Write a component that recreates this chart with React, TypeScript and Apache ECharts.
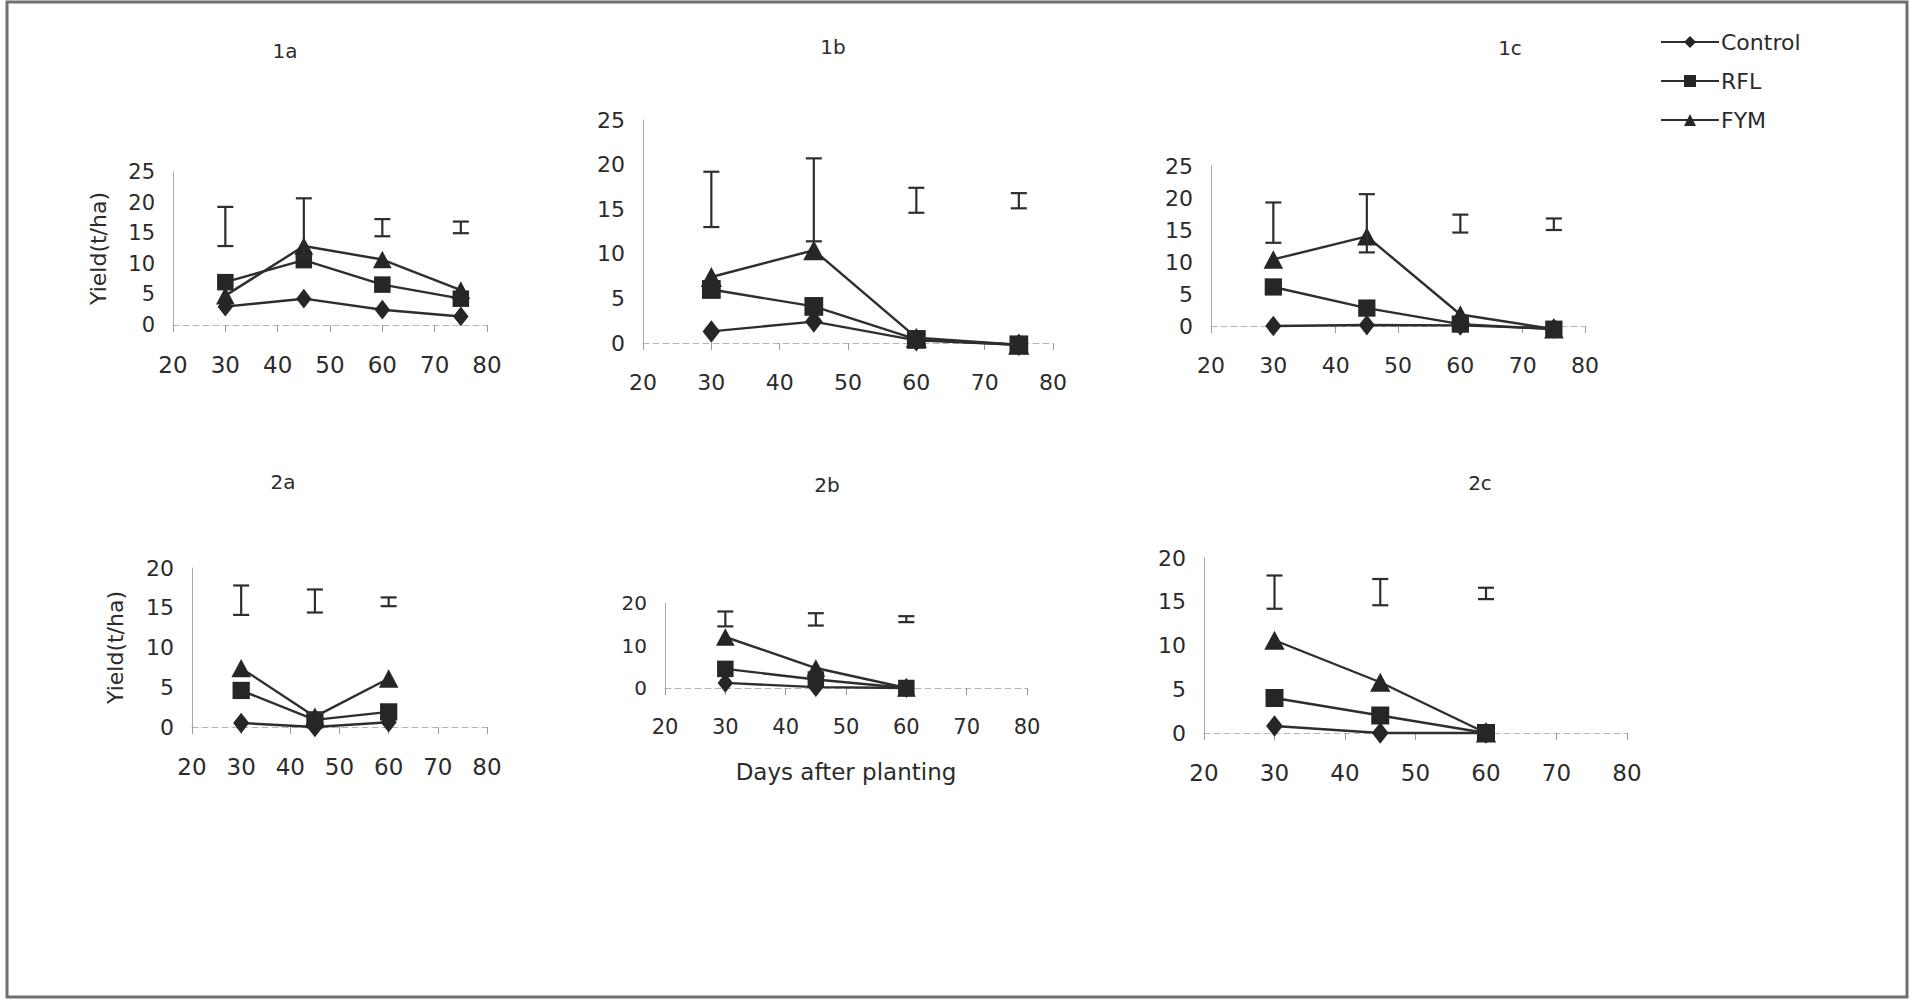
import React, { useEffect, useRef } from "react";
import * as echarts from "echarts";

// ---------- data ----------
const days4 = [30, 45, 60, 75];
const days3 = [30, 45, 60];

const control1a = [3.0, 4.3, 2.5, 1.4];
const rfl1a = [7.0, 10.6, 6.6, 4.3];
const fym1a = [4.8, 12.9, 10.7, 5.7];
const errLow1a = [12.9, 11.3, 14.5, 15.0];
const errHigh1a = [19.3, 20.7, 17.3, 16.9];

const control1b = [1.3, 2.4, 0.3, -0.2];
const rfl1b = [6.0, 4.1, 0.4, -0.2];
const fym1b = [7.4, 10.4, 0.6, -0.2];
const errLow1b = [13.0, 11.4, 14.6, 15.1];
const errHigh1b = [19.2, 20.7, 17.4, 16.8];

const control1c = [0.0, 0.15, 0.1, -0.4];
const rfl1c = [6.1, 2.8, 0.3, -0.5];
const fym1c = [10.4, 14.0, 1.8, -0.5];
const errLow1c = [13.0, 11.5, 14.6, 15.0];
const errHigh1c = [19.3, 20.6, 17.4, 16.8];

const control2a = [0.5, 0.0, 0.6];
const rfl2a = [4.6, 0.9, 1.9];
const fym2a = [7.4, 1.3, 6.1];
const errLow2a = [14.1, 14.4, 15.2];
const errHigh2a = [17.8, 17.3, 16.3];

const control2b = [1.2, 0.2, 0.0];
const rfl2b = [4.5, 2.0, 0.0];
const fym2b = [12.0, 4.7, 0.0];
const errLow2b = [14.5, 14.7, 15.5];
const errHigh2b = [18.0, 17.6, 16.9];

const control2c = [0.8, 0.0, 0.0];
const rfl2c = [4.0, 2.0, 0.0];
const fym2c = [10.6, 5.8, 0.0];
const errLow2c = [14.2, 14.6, 15.3];
const errHigh2c = [18.0, 17.6, 16.6];

const seriesNames = ["Control", "RFL", "FYM"];
const panelTitles = ["1a", "1b", "1c", "2a", "2b", "2c"];
const xTickMin = 20;
const xTickMax = 80;
const xTickStep = 10;
const yMaxes = [25, 25, 25, 20, 20, 20];
const yIntervals = [5, 5, 5, 5, 10, 5];
const yAxisTitle = "Yield(t/ha)";
const xAxisTitle = "Days after planting";

// ---------- layout ----------
const FONT = "'DejaVu Sans', 'Liberation Sans', sans-serif";
const INK = "#2b2b2b";

const grids = [
  { left: 173, top: 172, width: 314, height: 153 },
  { left: 643, top: 120, width: 410, height: 223 },
  { left: 1211, top: 166, width: 374, height: 160 },
  { left: 192, top: 568, width: 295, height: 159 },
  { left: 665, top: 603, width: 362, height: 85 },
  { left: 1204, top: 558, width: 423, height: 175 },
];
const titlePos = [
  [285, 51],
  [833, 47],
  [1510, 48],
  [283, 482],
  [827, 485],
  [1480, 483],
];
const xLabelSize = [23, 22, 22, 23, 21, 23];
const yLabelSize = [21, 22, 22, 22, 20, 22];
const symScale = [1.1, 1.25, 1.15, 1.15, 1.1, 1.2];

const panels = [
  { x: days4, c: control1a, r: rfl1a, f: fym1a, lo: errLow1a, hi: errHigh1a },
  { x: days4, c: control1b, r: rfl1b, f: fym1b, lo: errLow1b, hi: errHigh1b },
  { x: days4, c: control1c, r: rfl1c, f: fym1c, lo: errLow1c, hi: errHigh1c },
  { x: days3, c: control2a, r: rfl2a, f: fym2a, lo: errLow2a, hi: errHigh2a },
  { x: days3, c: control2b, r: rfl2b, f: fym2b, lo: errLow2b, hi: errHigh2b },
  { x: days3, c: control2c, r: rfl2c, f: fym2c, lo: errLow2c, hi: errHigh2c },
];

function buildOption() {
  const xAxis: any[] = [];
  const yAxis: any[] = [];
  const series: any[] = [];
  const graphic: any[] = [];

  panels.forEach((p, i) => {
    xAxis.push({
      type: "value",
      gridIndex: i,
      min: xTickMin,
      max: xTickMax,
      interval: xTickStep,
      axisLine: { onZero: false, lineStyle: { color: "#b5b5b5", width: 1, type: [6, 4] } },
      axisTick: { show: true, length: 7, lineStyle: { color: "#9a9a9a" } },
      axisLabel: { color: INK, fontFamily: FONT, fontSize: xLabelSize[i], margin: 28 },
      splitLine: { show: false },
      name: i === 4 ? xAxisTitle : "",
      nameLocation: "middle",
      nameGap: 72,
      nameTextStyle: { color: INK, fontFamily: FONT, fontSize: 23 },
    });
    yAxis.push({
      type: "value",
      gridIndex: i,
      min: 0,
      max: yMaxes[i],
      interval: yIntervals[i],
      axisLine: { show: true, lineStyle: { color: "#a8a8a8", width: 1 } },
      axisTick: { show: false },
      axisLabel: { color: INK, fontFamily: FONT, fontSize: yLabelSize[i], margin: 18 },
      splitLine: { show: false },
      name: i === 0 || i === 3 ? yAxisTitle : "",
      nameLocation: "middle",
      nameRotate: 90,
      nameGap: i === 0 ? 64 : 66,
      nameTextStyle: { color: INK, fontFamily: FONT, fontSize: 22 },
    });

    const s = symScale[i];
    const common = {
      type: "line",
      xAxisIndex: i,
      yAxisIndex: i,
      clip: false,
      color: "#262626",
      lineStyle: { color: "#2e2e2e", width: 2.4 },
      itemStyle: { color: "#262626" },
    };
    series.push({
      ...common,
      name: seriesNames[0],
      symbol: "diamond",
      symbolSize: [14 * s, 18 * s],
      data: p.x.map((d, k) => [d, p.c[k]]),
      z: 3,
    });
    series.push({
      ...common,
      name: seriesNames[1],
      symbol: "rect",
      symbolSize: 15 * s,
      data: p.x.map((d, k) => [d, p.r[k]]),
      z: 4,
    });
    series.push({
      ...common,
      name: seriesNames[2],
      symbol: "triangle",
      symbolSize: [17 * s, 16 * s],
      data: p.x.map((d, k) => [d, p.f[k]]),
      z: 5,
    });
    series.push({
      type: "custom",
      xAxisIndex: i,
      yAxisIndex: i,
      clip: false,
      z: 6,
      data: p.x.map((d, k) => [d, p.lo[k], p.hi[k]]),
      encode: { x: 0, y: [1, 2] },
      renderItem: (_params: any, api: any) => {
        const x = api.value(0);
        const lo = api.coord([x, api.value(1)]);
        const hi = api.coord([x, api.value(2)]);
        const w = 8;
        const st = { stroke: "#2e2e2e", lineWidth: 2.2 };
        return {
          type: "group",
          children: [
            { type: "line", shape: { x1: lo[0], y1: lo[1], x2: hi[0], y2: hi[1] }, style: st },
            { type: "line", shape: { x1: lo[0] - w, y1: lo[1], x2: lo[0] + w, y2: lo[1] }, style: st },
            { type: "line", shape: { x1: hi[0] - w, y1: hi[1], x2: hi[0] + w, y2: hi[1] }, style: st },
          ],
        };
      },
    });

    graphic.push({
      type: "text",
      x: titlePos[i][0],
      y: titlePos[i][1],
      style: {
        text: panelTitles[i],
        fill: INK,
        font: `20px ${FONT}`,
        align: "center",
        verticalAlign: "middle",
      },
    });
  });

  graphic.push({
    type: "rect",
    shape: { x: 7, y: 2, width: 1900, height: 995 },
    style: { fill: "none", stroke: "#6f6f6f", lineWidth: 3 },
    z: -1,
  });

  return {
    animation: false,
    backgroundColor: "#ffffff",
    grid: grids.map((g) => ({ ...g, containLabel: false })),
    xAxis,
    yAxis,
    legend: {
      data: seriesNames,
      orient: "vertical",
      left: 1655,
      top: 26,
      itemWidth: 58,
      itemHeight: 15,
      itemGap: 17,
      textStyle: { color: INK, fontFamily: FONT, fontSize: 22, padding: [0, 0, 0, -3] },
      inactiveColor: "#262626",
      selectedMode: false,
    },
    graphic,
    series,
  };
}

export default function App() {
  const ref = useRef<HTMLDivElement>(null);
  useEffect(() => {
    document.body.style.margin = "0";
    if (!ref.current) return;
    const chart = echarts.init(ref.current, null, { renderer: "svg" });
    chart.setOption(buildOption() as any);
    return () => chart.dispose();
  }, []);
  return <div ref={ref} style={{ width: 1925, height: 1001, background: "#fff" }} />;
}
